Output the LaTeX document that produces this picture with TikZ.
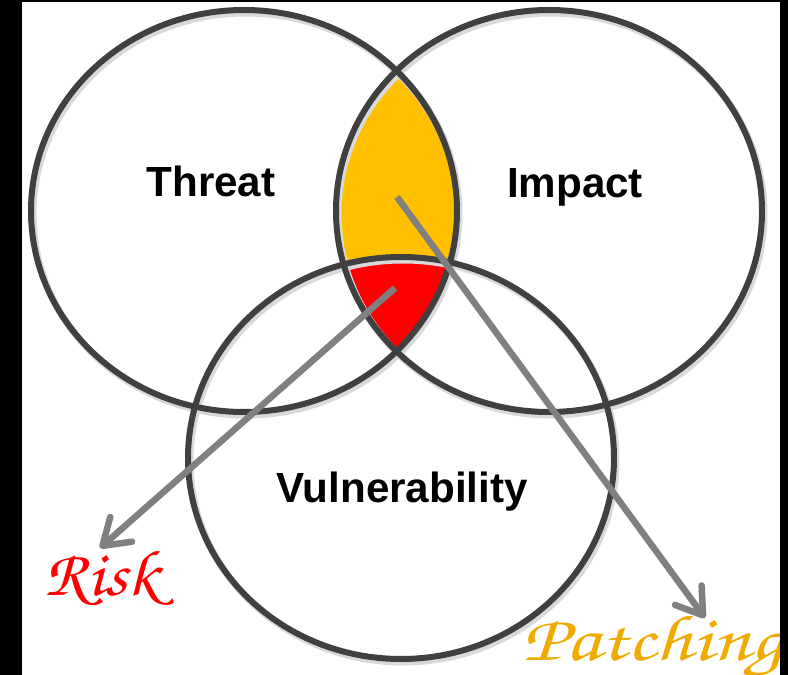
\documentclass[tikz,border=0pt]{standalone}
\usepackage[T1]{fontenc}
\usepackage{fontspec}
\newfontfamily\vennfont{Liberation Sans}
\usepackage{tikz}
\usetikzlibrary{arrows.meta,positioning}
\usepackage{xcolor}
\definecolor{ringgray}{RGB}{64,64,64}
\definecolor{pointgray}{RGB}{128,128,128}
\definecolor{lensgold}{RGB}{255,192,0}
\definecolor{lensred}{RGB}{255,0,0}
\definecolor{patchgold}{RGB}{240,170,0}
\newcommand{\handfont}{\fontencoding{T1}\fontfamily{pzc}\fontseries{mb}\fontshape{it}\selectfont}

\begin{document}
\begin{tikzpicture}[
    x=0.02cm, y=-0.02cm,
    ring/.style={draw=ringgray, line width=0.12cm},
    ringshadow/.style={draw=black!15, line width=0.14cm},
    setname/.style={anchor=base, font=\vennfont\bfseries\fontsize{24}{28}\selectfont},
    hand/.style={font=\handfont\fontsize{37}{42}\selectfont, transform shape},
    pointer/.style={draw=pointgray, line width=0.13cm, -{Straight Barb[length=0.5cm, width=0.66cm, round]}}
]
\useasboundingbox (0,0) rectangle (788,675);
\fill[white] (0,0) rectangle (788,675);

% centres of the three sets
\coordinate (T) at (244,211);
\coordinate (I) at (549,211);
\coordinate (V) at (401,458);

% Threat and Impact overlap
\begin{scope}
  \clip (T) ellipse [x radius=213, y radius=201];
  \fill[lensgold] (I) ellipse [x radius=213, y radius=201];
\end{scope}
% all three overlap
\begin{scope}
  \clip (T) ellipse [x radius=213, y radius=201];
  \clip (I) ellipse [x radius=213, y radius=201];
  \fill[lensred] (V) ellipse [x radius=213, y radius=201];
\end{scope}

% Rings
\foreach \c in {T,I,V}
  \draw[ringshadow] ([shift={(2,3)}]\c) ellipse [x radius=213, y radius=201];
\foreach \c in {T,I,V}
  \draw[ring] (\c) ellipse [x radius=213, y radius=201];

\node[setname] (threat) at (211,197) {Threat};
\node[setname] (impact) at (575,198) {Impact};
\node[setname] (vuln) at (402,502) {Vulnerability};

% Pointers
\coordinate (goldspot) at (397,197);
\coordinate (redspot) at (395,288);
\coordinate (risktip) at (100,548);
\coordinate (patchtip) at (705,618);

\draw[pointer] (redspot) -- (risktip);
\draw[pointer] (goldspot) -- (patchtip);

\node[hand, text=lensred, anchor=base, xscale=1.1] (risk) at (102,595) {Risk};
\node[hand, text=patchgold, anchor=base west, inner sep=0pt, xscale=1.28] (patching) at (522,660) {Patching};

% frame strips
\fill[black] (0,0) rectangle (22,675);
\fill[black] (0,0) rectangle (788,2);
\fill[black] (780,0) rectangle (788,675);
\end{tikzpicture}
\end{document}
